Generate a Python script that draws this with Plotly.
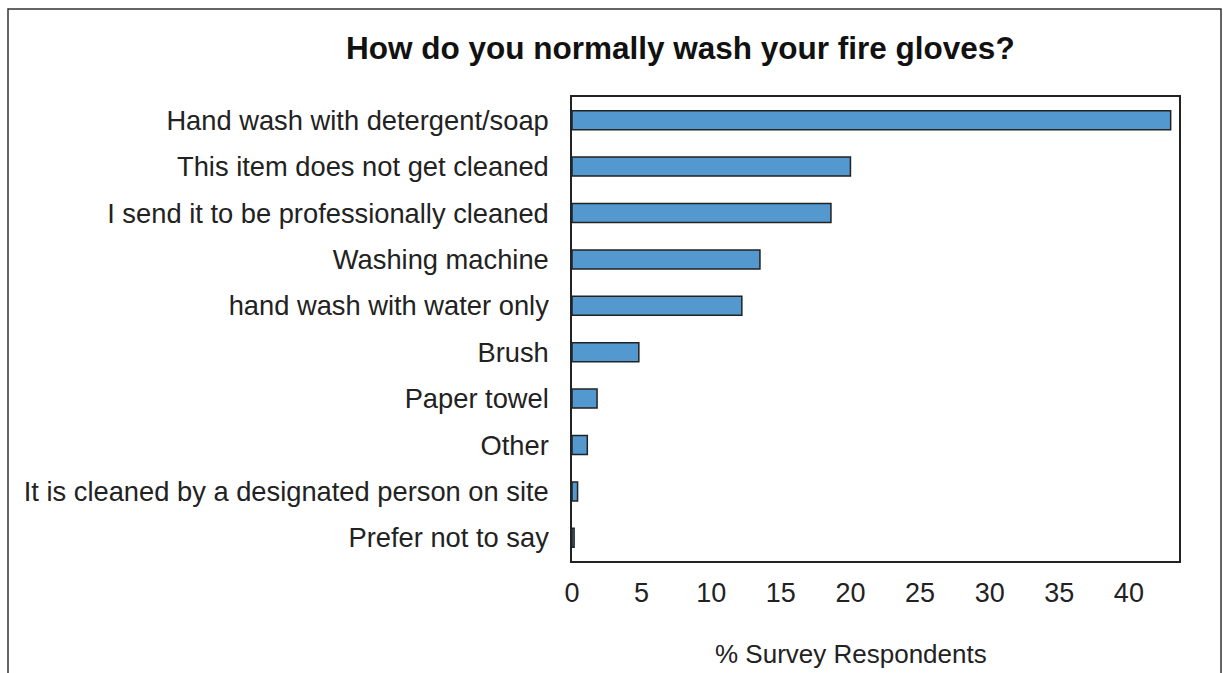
import plotly.graph_objects as go

# survey answers, top to bottom as shown
methods = [
    "Hand wash with detergent/soap",
    "This item does not get cleaned",
    "I send it to be professionally cleaned",
    "Washing machine",
    "hand wash with water only",
    "Brush",
    "Paper towel",
    "Other",
    "It is cleaned by a designated person on site",
    "Prefer not to say",
]
pct = [43.0, 20.0, 18.6, 13.5, 12.2, 4.8, 1.8, 1.1, 0.4, 0.15]
xticks = [0, 5, 10, 15, 20, 25, 30, 35, 40]

fig = go.Figure(go.Bar(
    x=pct, y=methods, orientation="h",
    marker=dict(color="#5399cf", line=dict(color="#222222", width=1.5)),
))

fig.update_layout(
    width=1223, height=673,
    margin=dict(l=572, r=44, t=97, b=112),
    paper_bgcolor="white", plot_bgcolor="white",
    font=dict(family="Liberation Sans, Arial", size=27, color="#222222"),
    bargap=0.59,
    showlegend=False,
)
fig.update_yaxes(autorange="reversed", showline=True, mirror=True,
                 linecolor="#222222", linewidth=1.5, ticks="", ticklabelstandoff=16,
                 tickfont=dict(size=27.3))
fig.update_xaxes(range=[0, 43.6], tickvals=xticks, showgrid=False, zeroline=False,
                 showline=True, mirror=True, linecolor="#222222", linewidth=1.5,
                 ticks="", tickfont=dict(size=27), ticklabelstandoff=7)

# px -> paper helpers (plot area spans x 572..1179, y 97..561)
def px_x(v):
    return (v - 572) / 607

def px_y(v):
    return (561 - v) / 464

fig.add_annotation(text="<b>How do you normally wash your fire gloves?</b>",
                   xref="paper", yref="paper", x=px_x(680), y=px_y(48),
                   xanchor="center", yanchor="middle",
                   showarrow=False, font=dict(size=31.5, color="#111111"))
fig.add_annotation(text="% Survey Respondents",
                   xref="paper", yref="paper", x=px_x(851), y=px_y(654),
                   xanchor="center", yanchor="middle",
                   showarrow=False, font=dict(size=26))

# outer frame, open at the bottom
fig.add_shape(type="rect", xref="paper", yref="paper",
              x0=px_x(8), x1=px_x(1221), y0=px_y(700), y1=px_y(9),
              line=dict(color="#333333", width=1.5))

fig.write_html("out.html", config={"displayModeBar": False},
               post_script="document.body.style.margin='0px';")
